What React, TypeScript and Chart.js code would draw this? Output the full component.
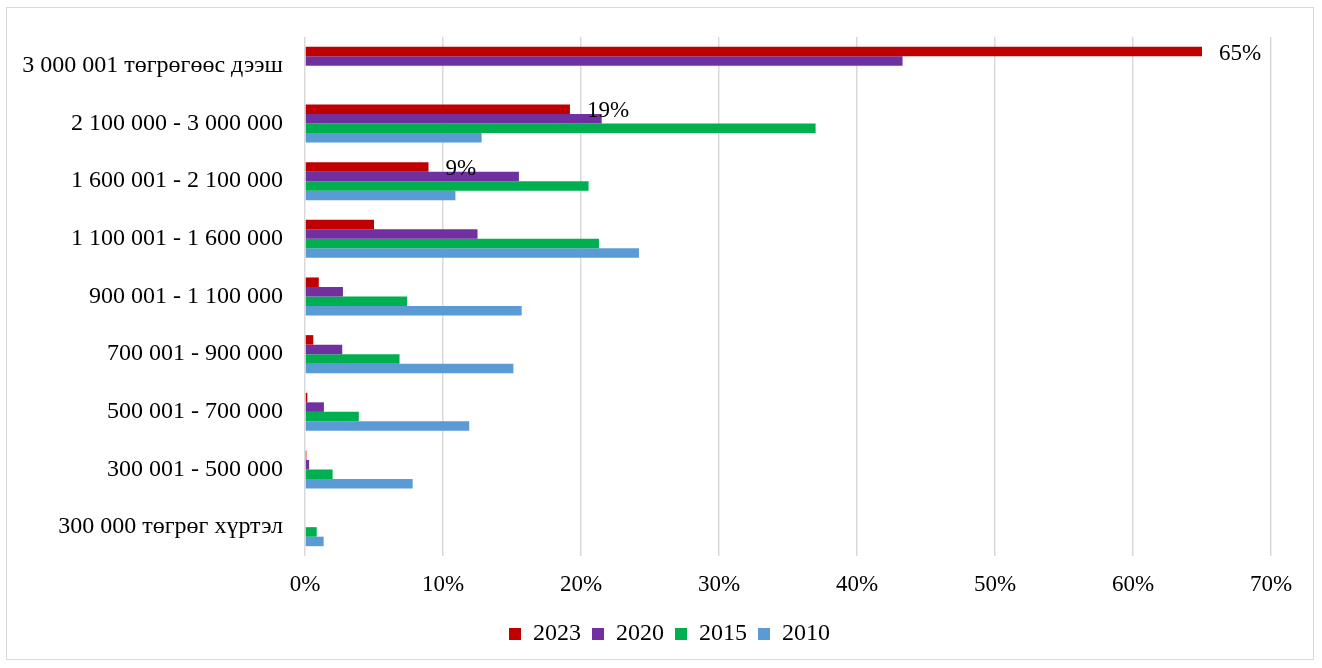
import React, { useEffect, useRef } from "react";
import { Chart, registerables } from "chart.js";

Chart.register(...registerables);

const categories = [
  "3 000 001 төгрөгөөс дээш",
  "2 100 000 - 3 000 000",
  "1 600 001 - 2 100 000",
  "1 100 001 - 1 600 000",
  "900 001 - 1 100 000",
  "700 001 - 900 000",
  "500 001 - 700 000",
  "300 001 - 500 000",
  "300 000 төгрөг хүртэл",
];

const seriesNames = ["2023", "2020", "2015", "2010"];
const values2023 = [65, 19.2, 8.95, 5.0, 1.0, 0.6, 0.17, 0.1, 0];
const values2020 = [43.3, 21.5, 15.5, 12.5, 2.75, 2.7, 1.37, 0.3, 0];
const values2015 = [0, 37.0, 20.55, 21.3, 7.4, 6.85, 3.9, 2.0, 0.85];
const values2010 = [0, 12.8, 10.9, 24.2, 15.7, 15.1, 11.9, 7.8, 1.35];
const labeled2023 = [0, 1, 2];
const xTicks = [0, 10, 20, 30, 40, 50, 60, 70];

const colors = ["#C00000", "#7030A0", "#00B050", "#5B9BD5"];
const FONT = "'Liberation Serif', 'Times New Roman', serif";

export default function App() {
  const ref = useRef<HTMLCanvasElement | null>(null);
  useEffect(() => {
    if (!ref.current) return;
    const labelPlugin = {
      id: "labels2023",
      afterLayout(chart: any) {
        // centre the legend on the whole chart box (Excel-style)
        if (chart.legend) {
          chart.legend.left = 61;
        }
      },
      afterDatasetsDraw(chart: any) {
        const ctx = chart.ctx;
        const meta = chart.getDatasetMeta(0);
        ctx.save();
        ctx.font = `23px ${FONT}`;
        ctx.fillStyle = "#000";
        ctx.textAlign = "left";
        ctx.textBaseline = "middle";
        labeled2023.forEach((i) => {
          const el = meta.data[i];
          ctx.fillText(`${Math.round(values2023[i])}%`, el.x + 17, el.y + 2);
        });
        ctx.restore();
      },
    };
    const chart = new Chart(ref.current, {
      type: "bar",
      data: {
        labels: categories,
        datasets: [values2023, values2020, values2015, values2010].map((d, i) => ({
          label: seriesNames[i],
          data: d,
          backgroundColor: colors[i],
          borderWidth: 0,
          categoryPercentage: 0.66,
          barPercentage: 1.0,
        })),
      },
      options: {
        indexAxis: "y",
        animation: false,
        responsive: true,
        maintainAspectRatio: false,
        layout: { padding: { top: 29, right: 42, left: 0, bottom: 3 } },
        plugins: {
          tooltip: { enabled: false },
          legend: {
            position: "bottom",
            labels: {
              boxWidth: 12,
              boxHeight: 12,
              padding: 11,
              color: "#000",
              font: { family: FONT, size: 24 },
            },
          },
        },
        scales: {
          x: {
            min: 0,
            max: 70,
            afterBuildTicks: (s: any) => {
              s.ticks = xTicks.map((v) => ({ value: v }));
            },
            afterFit: (s: any) => {
              s.height = 55;
            },
            grid: { color: "#d9d9d9", lineWidth: 1.5, drawTicks: false },
            border: { display: false },
            ticks: {
              padding: 15,
              color: "#000",
              font: { family: FONT, size: 23 },
              callback: (v: any) => `${v}%`,
            },
          },
          y: {
            afterFit: (s: any) => {
              s.width = 298;
              s.paddingTop = 0;
              s.paddingBottom = 0;
            },
            grid: { display: false, drawTicks: false },
            border: { display: false },
            ticks: {
              padding: 22,
              color: "#000",
              font: { family: FONT, size: 24 },
            },
          },
        },
      },
      plugins: [labelPlugin],
    });
    return () => chart.destroy();
  }, []);
  return (
    <div
      style={{
        position: "absolute",
        left: 6,
        top: 7,
        width: 1308,
        height: 653,
        border: "1px solid #d9d9d9",
        boxSizing: "border-box",
        background: "#fff",
      }}
    >
      <div style={{ position: "relative", width: 1306, height: 651 }}>
        <canvas ref={ref} />
      </div>
    </div>
  );
}
